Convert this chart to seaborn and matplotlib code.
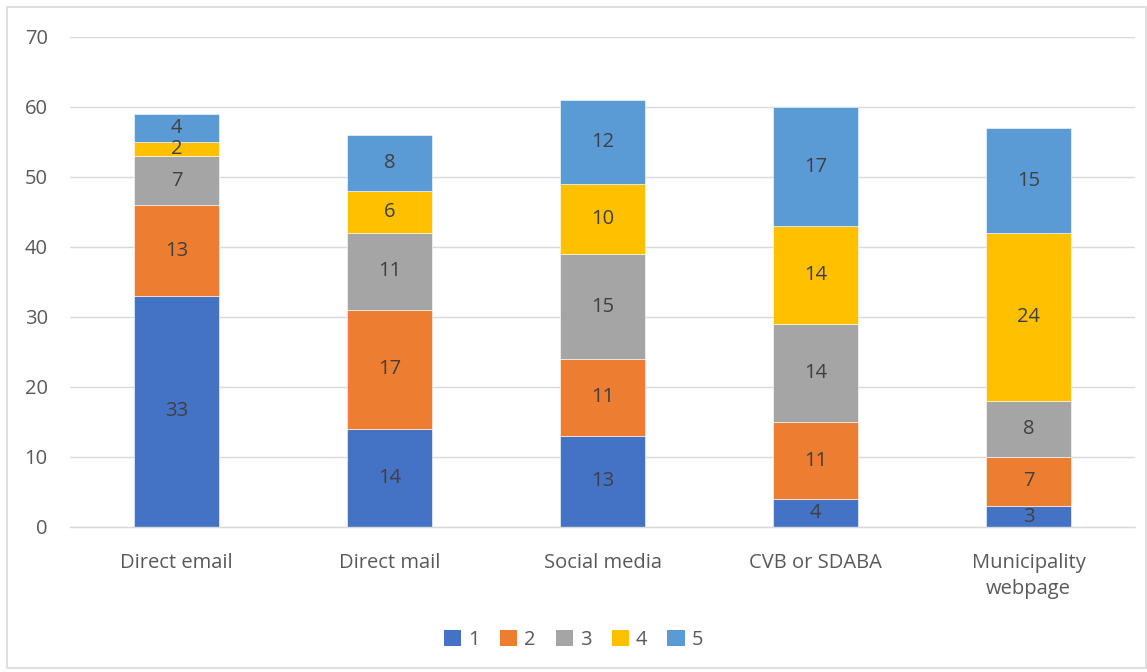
import matplotlib
matplotlib.use("Agg")
import matplotlib.pyplot as plt
import seaborn as sns
import numpy as np
from matplotlib.patches import Rectangle, Patch

categories = ["Direct email", "Direct mail", "Social media", "CVB or SDABA", "Municipality\nwebpage"]
series_names = ["1", "2", "3", "4", "5"]
s1 = [33, 14, 13, 4, 3]
s2 = [13, 17, 11, 11, 7]
s3 = [7, 11, 15, 14, 8]
s4 = [2, 6, 10, 14, 24]
s5 = [4, 8, 12, 17, 15]
colors = ["#4472C4", "#ED7D31", "#A5A5A5", "#FFC000", "#5B9BD5"]
yticks = [0, 10, 20, 30, 40, 50, 60, 70]

sns.set_theme(style="white")
plt.rcParams['font.family'] = ['Open Sans', 'DejaVu Sans']
txt = "#595959"
fs = 14.5

fig = plt.figure(figsize=(11.47, 6.72), dpi=100)
ax = fig.add_axes([70/1147, (672-527)/672, (1135-70)/1147, (527-37)/672])

bottom = np.zeros(len(categories))
for name, vals, col in zip(series_names, [s1, s2, s3, s4, s5], colors):
    sns.barplot(x=categories, y=vals, bottom=bottom, color=col, width=0.40,
                ax=ax, saturation=1, edgecolor="white", linewidth=0.4)
    bottom = bottom + np.array(vals)

for cont in ax.containers:
    ax.bar_label(cont, label_type="center", color="#404040", fontsize=fs)

ax.set_ylim(0, 70)
ax.set_xlim(-0.5, 4.5)
ax.set_yticks(yticks)
ax.yaxis.grid(True, color="#D9D9D9", linewidth=1)
ax.set_axisbelow(True)
for s in ["top", "right", "left"]:
    ax.spines[s].set_visible(False)
ax.spines["bottom"].set_color("#D9D9D9")
ax.spines["bottom"].set_linewidth(1)
ax.tick_params(axis="both", length=0, labelsize=fs, labelcolor=txt)
ax.tick_params(axis="y", pad=16)
ax.tick_params(axis="x", pad=19)
for lbl in ax.get_xticklabels():
    lbl.set_linespacing(1.35)
ax.set_xlabel("")
ax.set_ylabel("")

handles = [Patch(facecolor=c, edgecolor="none") for c in colors]
fig.legend(handles, series_names, loc="center", bbox_to_anchor=(0.5, 1 - 640/672),
           ncol=5, frameon=False, fontsize=fs, labelcolor=txt,
           handlelength=0.85, handleheight=0.85, handletextpad=0.35, columnspacing=1.0)

fig.patches.append(Rectangle((7/1147, 4/672), 1 - 8/1147, 1 - 11/672, transform=fig.transFigure,
                             fill=False, edgecolor="#D9D9D9", linewidth=1.2))

fig.savefig("out.png", dpi=100)
